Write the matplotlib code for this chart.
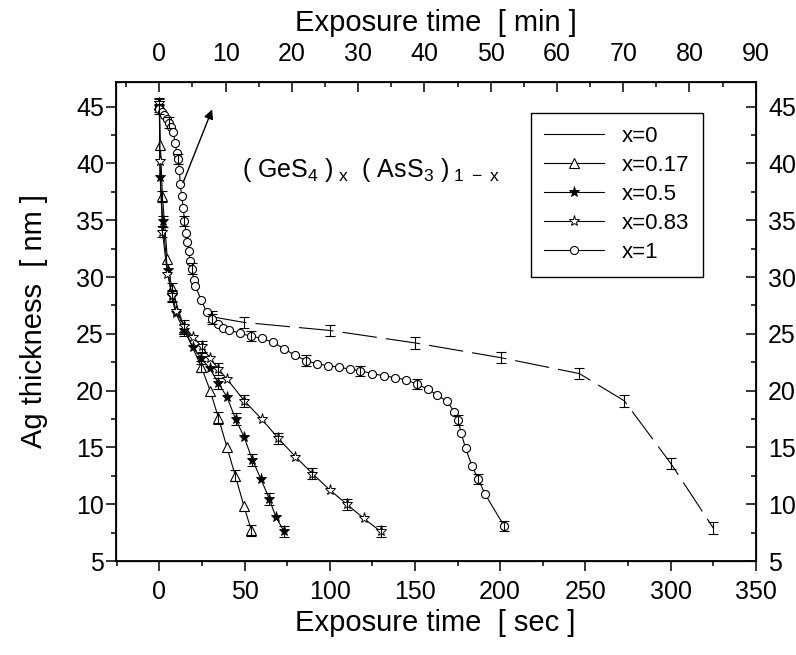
import matplotlib
matplotlib.use("Agg")
import matplotlib.pyplot as plt
from matplotlib.lines import Line2D
from matplotlib.ticker import MultipleLocator
import numpy as np

plt.rcParams['font.family'] = ['Liberation Sans', 'DejaVu Sans']
plt.rcParams['mathtext.fontset'] = 'custom'
plt.rcParams['mathtext.rm'] = 'Liberation Sans'
plt.rcParams['mathtext.it'] = 'Liberation Sans:italic'
plt.rcParams['lines.scale_dashes'] = False

# ---------------- data (x axis: exposure time in sec as on bottom axis) ----------------
# x = 0 (dashed, error bars only)
t_x0 = [31.0, 49.9, 100.0, 150.1, 200.4, 246.5, 272.9, 300.1, 325.1]
d_x0 = [26.5, 26.0, 25.3, 24.2, 22.9, 21.5, 19.1, 13.6, 7.9]
e_x0 = 0.5

# x = 0.17 (open triangles)
t_x017 = [0.0, 0.6, 1.8, 4.7, 7.2, 14.7, 24.6, 29.8, 34.7, 39.7, 44.6, 49.7, 54.0]
d_x017 = [45.2, 41.6, 37.1, 31.6, 29.0, 25.4, 22.1, 20.0, 17.6, 15.0, 12.5, 9.8, 7.7]
e_x017 = 0.5

# x = 0.5 (filled stars)
t_x05 = [0.0, 0.4, 2.0, 4.8, 7.3, 9.6, 14.7, 19.6, 24.5, 29.6, 34.7, 39.8, 44.7,
         49.8, 54.6, 59.5, 64.6, 68.3, 73.2]
d_x05 = [45.0, 38.8, 34.9, 30.6, 28.3, 26.8, 25.3, 23.85, 22.85, 21.95, 20.65, 19.4,
         17.5, 15.9, 13.9, 12.25, 10.45, 8.9, 7.6]
e_x05 = 0.5

# x = 0.83 (open stars)
t_x083 = [0.0, 0.3, 1.8, 4.7, 7.6, 9.8, 14.7, 19.5, 24.8, 29.6, 34.7, 39.8, 49.9,
          60.0, 69.8, 79.8, 89.8, 100.1, 110.0, 120.0, 129.9]
d_x083 = [45.3, 40.2, 34.0, 30.3, 28.4, 27.0, 25.7, 24.75, 23.9, 22.9, 21.9, 21.0,
          19.1, 17.5, 15.8, 14.2, 12.7, 11.25, 10.0, 8.75, 7.6]
e_x083 = 0.5

# x = 1 (open circles)
t_x1 = [0.0, 1.4, 2.8, 4.3, 5.7, 6.9, 8.0, 9.4, 10.2, 11.0, 11.7, 12.3, 13.1, 14.1,
        14.7, 15.7, 16.4, 17.3, 18.0, 18.9, 20.2, 21.1, 24.6, 27.8, 31.0, 34.3, 37.6,
        40.6, 47.2, 53.6, 60.3, 66.7, 73.2, 79.6, 86.1, 92.5, 99.2, 105.6, 111.7,
        118.0, 125.0, 131.7, 138.1, 145.0, 151.2, 157.6, 163.0, 169.0, 172.9, 175.4,
        177.1, 179.7, 183.5, 187.2, 191.1, 202.3]
d_x1 = [44.8, 44.5, 44.3, 43.9, 43.6, 43.25, 42.75, 41.8, 40.9, 40.4, 39.45, 38.15,
        37.1, 36.05, 34.9, 33.9, 33.1, 32.25, 31.45, 30.75, 29.75, 29.25, 27.95, 26.9,
        26.3, 25.85, 25.55, 25.35, 25.05, 24.8, 24.6, 24.25, 23.7, 23.1, 22.65, 22.35,
        22.2, 22.05, 21.9, 21.75, 21.5, 21.3, 21.15, 20.95, 20.55, 20.15, 19.6, 19.05,
        18.15, 17.4, 16.25, 14.95, 13.35, 12.2, 10.9, 8.1]
e_x1 = 0.45
bars_x1 = [0, 4, 9, 14, 19, 24, 29, 34, 39, 44, 49, 53, 55]

labels = ['x=0', 'x=0.17', 'x=0.5', 'x=0.83', 'x=1']
top_ticks = [0, 10, 20, 30, 40, 50, 60, 70, 80, 90]
bottom_ticks = [0, 50, 100, 150, 200, 250, 300, 350]
y_ticks = [5, 10, 15, 20, 25, 30, 35, 40, 45]

# ---------------- figure ----------------
fig = plt.figure(figsize=(7.96, 6.55), dpi=100)
ax = fig.add_axes([0.1454, 0.1435, 0.8040, 0.7318])

lw = 0.8
cap = 3.6
ebk = dict(ecolor='k', elinewidth=0.8, capsize=cap, capthick=0.8)

tri = dict(marker='^', ms=6.5, mfc='white', mec='k', mew=0.8)
fst = dict(marker='*', ms=8, mfc='k', mec='k', mew=0.6)
ost = dict(marker='*', ms=8, mfc='white', mec='k', mew=0.7)
cir = dict(marker='o', ms=5.8, mfc='white', mec='k', mew=0.8)

# x=0 dashed
ax.plot(t_x0, d_x0, color='k', lw=lw, dashes=(25, 6.5), zorder=2)
ax.errorbar(t_x0, d_x0, yerr=e_x0, fmt='none', **ebk, zorder=2)

# x=0.17 triangles
ax.plot(t_x017, d_x017, color='k', lw=lw, zorder=3, **tri)
ax.errorbar(t_x017[::2], d_x017[::2], yerr=e_x017, fmt='none', **ebk, zorder=3)

# x=0.5 filled stars
ax.plot(t_x05, d_x05, color='k', lw=lw, zorder=3, **fst)
ax.errorbar(t_x05[::2], d_x05[::2], yerr=e_x05, fmt='none', **ebk, zorder=3)

# x=0.83 open stars
ax.plot(t_x083, d_x083, color='k', lw=lw, zorder=3, **ost)
ax.errorbar(t_x083[::2], d_x083[::2], yerr=e_x083, fmt='none', **ebk, zorder=3)

# x=1 circles
ax.plot(t_x1, d_x1, color='k', lw=lw, zorder=3, **cir)
ax.errorbar([t_x1[i] for i in bars_x1], [d_x1[i] for i in bars_x1], yerr=e_x1,
            fmt='none', **ebk, zorder=3)

ax.set_xlim(-25.6, 350)
ax.set_ylim(5, 47.2)
ax.set_xticks(bottom_ticks)
ax.xaxis.set_minor_locator(MultipleLocator(25))
ax.set_yticks(y_ticks)
ax.yaxis.set_minor_locator(MultipleLocator(2.5))
ax.tick_params(axis='both', which='major', direction='out', length=7.5, width=1.1,
               labelsize=18)
ax.tick_params(axis='both', which='minor', direction='out', length=3.8, width=1.1)
ax.tick_params(axis='x', pad=6)
ax.tick_params(axis='y', pad=1)
for s in ax.spines.values():
    s.set_linewidth(1.3)

ax.set_xlabel('Exposure time  [ sec ]', fontsize=21, labelpad=4)
ax.set_ylabel('Ag thickness  [ nm ]', fontsize=21, labelpad=20)

# right axis (mirror)
axr = ax.twinx()
axr.set_ylim(ax.get_ylim())
axr.set_yticks(y_ticks)
axr.yaxis.set_minor_locator(MultipleLocator(2.5))
axr.tick_params(axis='y', which='major', direction='in', length=7.5, width=1.1,
                labelsize=18, pad=9)
axr.tick_params(axis='y', which='minor', direction='in', length=3.8, width=1.1)

# top axis (minutes)
ax2 = ax.twiny()
ax2.set_xlim(-6.58, 90)
ax2.set_xticks(top_ticks)
ax2.xaxis.set_minor_locator(MultipleLocator(5))
ax2.tick_params(axis='x', which='major', direction='in', length=7.5, width=1.1,
                labelsize=18, pad=11)
ax2.tick_params(axis='x', which='minor', direction='in', length=3.8, width=1.1)
ax2.set_xlabel('Exposure time  [ min ]', fontsize=21, labelpad=8)

# formula and arrow
ax.text(48.5, 39.4, r"( GeS$_{\mathrm{4}}$ )$_{\mathrm{\ x}}$  ( AsS$_{\mathrm{3}}$ )$_{\mathrm{\ 1\ -\ x}}$",
        fontsize=18, ha='left', va='center', zorder=6)
ax.annotate('', xy=(31.0, 44.76), xytext=(13.9, 38.3),
            arrowprops=dict(arrowstyle='-|>', color='k', lw=1.0, mutation_scale=14,
                            shrinkA=0, shrinkB=0))

# legend
handles = [
    Line2D([], [], color='k', lw=lw),
    Line2D([], [], color='k', lw=lw, **tri),
    Line2D([], [], color='k', lw=lw, **fst),
    Line2D([], [], color='k', lw=lw, **ost),
    Line2D([], [], color='k', lw=lw, **cir),
]
leg = ax.legend(handles, labels, loc='upper left', bbox_to_anchor=(0.649, 0.935),
                borderaxespad=0, fontsize=16, frameon=True, fancybox=False,
                edgecolor='k', framealpha=1, handlelength=2.7, handletextpad=0.8,
                labelspacing=0.36, borderpad=0.6, numpoints=1)
leg.get_frame().set_linewidth(1.0)
leg.set_zorder(5)

fig.savefig('out.png', dpi=100)
